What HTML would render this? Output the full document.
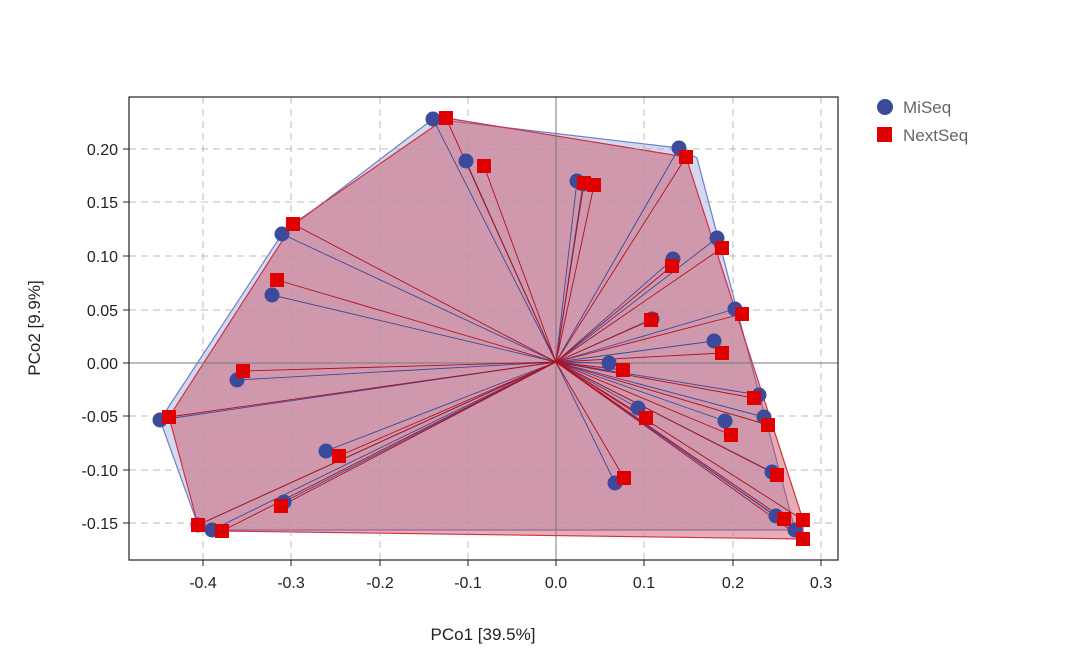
<!DOCTYPE html>
<html><head><meta charset="utf-8"><style>body{margin:0;background:#fff}svg{display:block;font-family:"Liberation Sans",sans-serif}</style></head><body>
<svg width="1080" height="657" viewBox="0 0 1080 657">
<polygon points="433,119 679,148 697,158 795,530 212,530 198,525 160,420 282,234" fill="rgba(130,150,210,0.35)" stroke="#6a7fc8" stroke-width="1.2"/>
<polygon points="446,118 686,157 803,520 803,539 222,531 198,525 169,417 293,224" fill="rgba(205,70,90,0.45)" stroke="#d03040" stroke-width="1.2"/>
<g stroke="rgba(160,160,160,0.7)" stroke-dasharray="7,5" stroke-width="1">
<line x1="203" y1="97" x2="203" y2="560"/><line x1="291" y1="97" x2="291" y2="560"/><line x1="380" y1="97" x2="380" y2="560"/><line x1="468" y1="97" x2="468" y2="560"/><line x1="644" y1="97" x2="644" y2="560"/><line x1="733" y1="97" x2="733" y2="560"/><line x1="821" y1="97" x2="821" y2="560"/>
<line x1="129" y1="149" x2="838" y2="149"/><line x1="129" y1="202" x2="838" y2="202"/><line x1="129" y1="256" x2="838" y2="256"/><line x1="129" y1="310" x2="838" y2="310"/><line x1="129" y1="416" x2="838" y2="416"/><line x1="129" y1="470" x2="838" y2="470"/><line x1="129" y1="523" x2="838" y2="523"/>
</g>
<line x1="556" y1="97" x2="556" y2="560" stroke="#777"/><line x1="129" y1="363" x2="838" y2="363" stroke="#777"/>
<g stroke="#3b4a9a" stroke-width="0.9" id="bl"></g>
<g stroke="#b01020" stroke-width="0.9" id="rl"></g>
<g fill="#3b4a9a" id="bp"></g><g fill="#e00000" id="rp"></g>
<rect x="129" y="97" width="709" height="463" fill="none" stroke="#222" stroke-width="1.2"/>
<g font-size="16" fill="#222" text-anchor="middle">
<text x="203" y="588">-0.4</text><text x="291" y="588">-0.3</text><text x="380" y="588">-0.2</text><text x="468" y="588">-0.1</text><text x="556" y="588">0.0</text><text x="644" y="588">0.1</text><text x="733" y="588">0.2</text><text x="821" y="588">0.3</text></g>
<g font-size="16" fill="#222" text-anchor="end">
<text x="118" y="155">0.20</text><text x="118" y="208">0.15</text><text x="118" y="262">0.10</text><text x="118" y="316">0.05</text><text x="118" y="369">0.00</text><text x="118" y="422">-0.05</text><text x="118" y="476">-0.10</text><text x="118" y="529">-0.15</text></g>
<g stroke="#222"><line x1="203" y1="560" x2="203" y2="566"/><line x1="291" y1="560" x2="291" y2="566"/><line x1="380" y1="560" x2="380" y2="566"/><line x1="468" y1="560" x2="468" y2="566"/><line x1="556" y1="560" x2="556" y2="566"/><line x1="644" y1="560" x2="644" y2="566"/><line x1="733" y1="560" x2="733" y2="566"/><line x1="821" y1="560" x2="821" y2="566"/>
<line x1="123" y1="149" x2="129" y2="149"/><line x1="123" y1="202" x2="129" y2="202"/><line x1="123" y1="256" x2="129" y2="256"/><line x1="123" y1="310" x2="129" y2="310"/><line x1="123" y1="363" x2="129" y2="363"/><line x1="123" y1="416" x2="129" y2="416"/><line x1="123" y1="470" x2="129" y2="470"/><line x1="123" y1="523" x2="129" y2="523"/></g>
<text x="483" y="640" font-size="17" fill="#222" text-anchor="middle">PCo1 [39.5%]</text>
<text transform="translate(40,328) rotate(-90)" font-size="17" fill="#222" text-anchor="middle">PCo2 [9.9%]</text>
<circle cx="885" cy="107" r="8" fill="#3b4a9a"/><text x="903" y="113" font-size="17" fill="#666">MiSeq</text>
<rect x="877" y="127" width="15" height="15" fill="#e00000"/><text x="903" y="141" font-size="17" fill="#666">NextSeq</text>
</svg>
<script>
var B=[[433,119],[466,161],[577,181],[583,184],[679,148],[282,234],[272,295],[237,380],[160,420],[717,238],[673,259],[652,319],[735,309],[714,341],[609,363],[759,395],[638,408],[725,421],[764,417],[326,451],[284,502],[772,472],[776,516],[795,530],[198,525],[212,530],[615,483]];
var R=[[446,118],[484,166],[584,183],[594,185],[686,157],[293,224],[277,280],[243,371],[169,417],[722,248],[672,266],[651,320],[742,314],[722,353],[623,370],[754,398],[646,418],[731,435],[768,425],[339,456],[281,506],[777,475],[784,519],[803,520],[803,539],[198,525],[222,531],[624,478]];
var ns="http://www.w3.org/2000/svg";function el(g,t,a){var e=document.createElementNS(ns,t);for(var k in a)e.setAttribute(k,a[k]);document.getElementById(g).appendChild(e);}
B.forEach(function(p){el("bl","line",{x1:556,y1:362,x2:p[0],y2:p[1]});el("bp","circle",{cx:p[0],cy:p[1],r:7.5});});
R.forEach(function(p){el("rl","line",{x1:556,y1:362,x2:p[0],y2:p[1]});el("rp","rect",{x:p[0]-7,y:p[1]-7,width:14,height:14});});
</script>
</body></html>
